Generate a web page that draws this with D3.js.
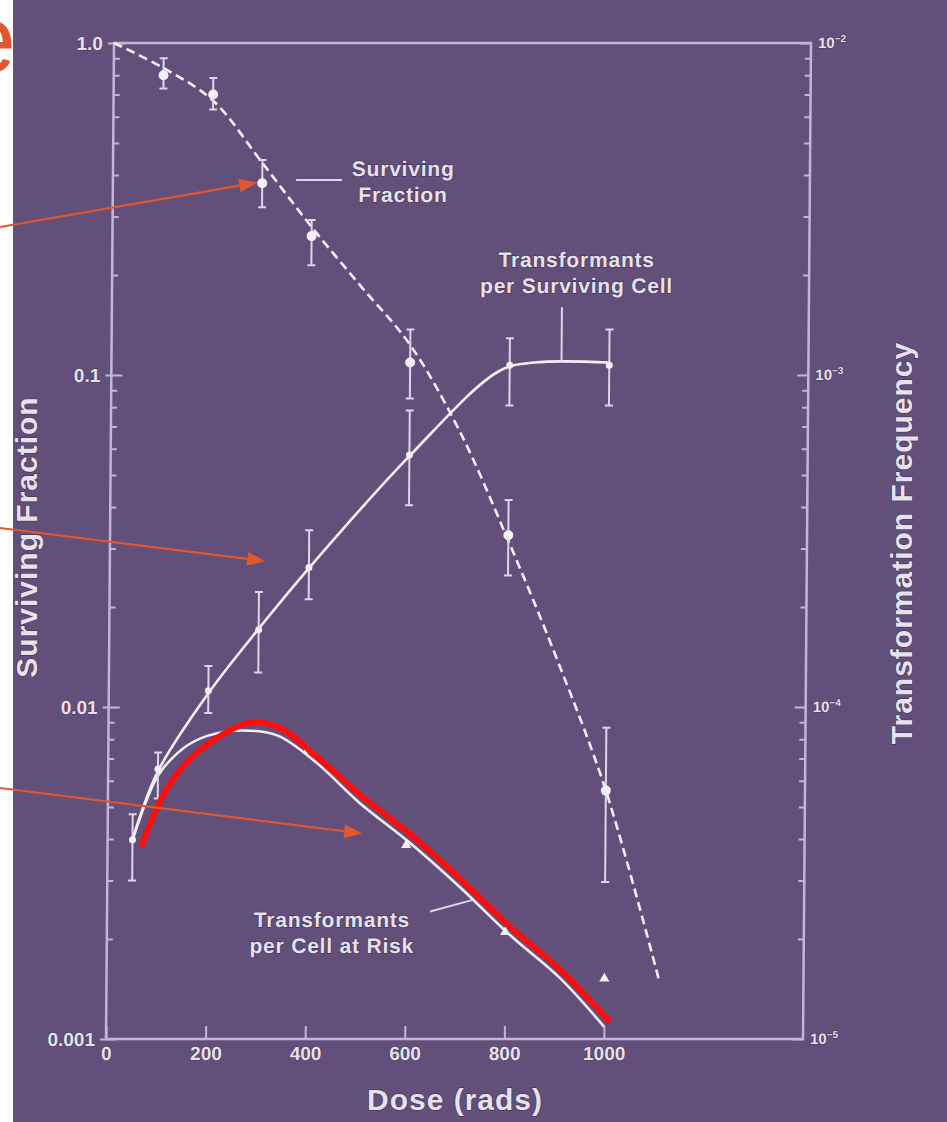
<!DOCTYPE html>
<html>
<head>
<meta charset="utf-8">
<script src="https://cdn.jsdelivr.net/npm/d3@7"></script>
<style>
  html, body { margin: 0; padding: 0; background: #fff; }
  svg { display: block; }
  text { font-family: "Liberation Sans", Arial, sans-serif; font-weight: bold; }
</style>
</head>
<body>
<svg id="chart" width="947" height="1122"></svg>
<script>
// ---- axis ticks ----
const doseTicks = [0, 200, 400, 600, 800, 1000];
const sfTicks = [1, 0.1, 0.01, 0.001];
const sfTickLabels = ["1.0", "0.1", "0.01", "0.001"];
const tfTicks = [1e-2, 1e-3, 1e-4, 1e-5];
const tfTickExponents = ["\u22122", "\u22123", "\u22124", "\u22125"];

// ---- surviving fraction (left axis) ----
const sfDoses = [100, 200, 300, 400, 600, 800, 1000];
const sfMean  = [0.80, 0.70, 0.378, 0.262, 0.109, 0.0329, 0.0056];
const sfLow   = [0.73, 0.63, 0.32, 0.214, 0.085, 0.0249, 0.00297];
const sfHigh  = [0.90, 0.785, 0.444, 0.293, 0.137, 0.042, 0.00866];
const sfFit = [[0, 1], [100, 0.84], [200, 0.67], [300, 0.435], [400, 0.279], [500, 0.185],
               [600, 0.123], [700, 0.068], [800, 0.0317], [900, 0.0139], [1000, 0.0056], [1110, 0.0015]];

// ---- transformants per surviving cell (right axis) ----
const tpscDoses = [50, 100, 200, 300, 400, 600, 800, 1000];
const tpscMean  = [3.98e-5, 6.5e-5, 1.12e-4, 1.71e-4, 2.63e-4, 5.74e-4, 1.07e-3, 1.07e-3];
const tpscLow   = [3.0e-5, 5.3e-5, 9.6e-5, 1.27e-4, 2.11e-4, 4.05e-4, 8.1e-4, 8.1e-4];
const tpscHigh  = [4.75e-5, 7.3e-5, 1.33e-4, 2.22e-4, 3.41e-4, 7.82e-4, 1.29e-3, 1.37e-3];
const tpscFit = [[50, 3.98e-5], [100, 6.4e-5], [200, 1.1e-4], [300, 1.72e-4], [400, 2.62e-4],
                 [600, 5.7e-4], [780, 1.03e-3], [850, 1.09e-3], [1000, 1.09e-3]];

// ---- transformants per cell at risk (right axis) ----
const tpcrDoses = [400, 600, 800, 1000];
const tpcrMean  = [7.4e-5, 3.84e-5, 2.1e-5, 1.52e-5];
const tpcrFit = [[50, 3.98e-5], [100, 6.2e-5], [150, 7.5e-5], [200, 8.2e-5], [270, 8.5e-5], [340, 8.2e-5],
                 [418, 6.8e-5], [505, 5.15e-5], [607, 3.9e-5], [708, 2.87e-5], [809, 2.06e-5],
                 [910, 1.53e-5], [1000, 1.09e-5]];

// ---- hand-drawn highlight over the per-cell-at-risk curve (right axis) ----
const highlight = [[69, 3.84e-5], [118, 5.67e-5], [184, 7.42e-5], [284, 8.96e-5], [344, 8.64e-5],
                   [418, 7.1e-5], [505, 5.45e-5], [607, 4.14e-5], [708, 3.04e-5], [809, 2.18e-5],
                   [910, 1.62e-5], [1008, 1.14e-5]];

// ---- layout ----
const W = 947, H = 1122;
const originX = 114, originY = 43, plotW = 697, plotH = 996;
const skew = -0.46;                          // the framed figure leans slightly
const tanSkew = Math.tan(skew * Math.PI / 180);
const ink = "#f3eff8", frameColor = "#c2b6d8", labelColor = "#e6e1ec";
const accent = "#e0562e";

const x  = d3.scaleLinear().domain([0, 1400]).range([0, plotW]);
const yL = d3.scaleLog().domain([0.001, 1]).range([plotH, 0]);
const yR = d3.scaleLog().domain([1e-5, 1e-2]).range([plotH, 0]);

function pagePos(d, v, ys) {
  const py = ys(v);
  return [originX + x(d) + tanSkew * py, originY + py];
}

const svg = d3.select("#chart");
svg.append("rect").attr("width", W).attr("height", H).attr("fill", "#fff");
// slide title letter peeking from behind the figure
svg.append("text").attr("x", 16).attr("y", 72).attr("text-anchor", "end")
  .attr("font-size", 96).style("font-weight", "normal").attr("fill", accent).text("e");
svg.append("rect").attr("x", 13).attr("y", 0).attr("width", W - 13).attr("height", H).attr("fill", "#63507a");

const g = svg.append("g").attr("transform", `translate(${originX},${originY}) skewX(${skew})`);

// frame
g.append("rect").attr("x", 0).attr("y", 0).attr("width", plotW).attr("height", plotH)
  .attr("fill", "none").attr("stroke", frameColor).attr("stroke-width", 2.5);

function styleAxis(sel, size) {
  sel.select(".domain").remove();
  sel.selectAll(".tick line").attr("stroke", frameColor).attr("stroke-width", 2);
  sel.selectAll(".tick text").attr("fill", labelColor).attr("font-size", size)
    .attr("font-family", null).style("font-weight", "bold")
    .attr("stroke", "#2c2240").attr("stroke-width", 1.2).attr("stroke-opacity", 0.5)
    .attr("paint-order", "stroke");
}

// minor log ticks (both vertical axes)
const minorVals = [];
[0.001, 0.01, 0.1].forEach(b => { for (let k = 2; k <= 9; k++) minorVals.push(b * k); });
g.append("g").call(d3.axisLeft(yL).tickValues(minorVals).tickSize(-6).tickFormat(""))
  .call(s => styleAxis(s, 0));
const minorR = minorVals.map(v => v * 1e-2);
g.append("g").attr("transform", `translate(${plotW},0)`)
  .call(d3.axisRight(yR).tickValues(minorR).tickSize(-6).tickFormat(""))
  .call(s => styleAxis(s, 0));

// left axis: surviving fraction
g.append("g")
  .call(d3.axisLeft(yL).tickValues(sfTicks).tickSizeInner(-11).tickSizeOuter(0).tickPadding(11)
    .tickFormat((d, i) => sfTickLabels[i]))
  .call(s => styleAxis(s, 19));
g.append("g").call(d3.axisLeft(yL).tickValues(sfTicks).tickSize(6).tickFormat(""))
  .call(s => styleAxis(s, 0));

// right axis: transformation frequency
const rightAxis = g.append("g").attr("transform", `translate(${plotW},0)`)
  .call(d3.axisRight(yR).tickValues(tfTicks).tickSizeInner(-11).tickSizeOuter(0).tickPadding(7)
    .tickFormat(() => "10"))
  .call(s => styleAxis(s, 15));
rightAxis.selectAll(".tick text").each(function (d, i) {
  d3.select(this).append("tspan").attr("dy", -6).attr("font-size", 10).text(tfTickExponents[i]);
});

// bottom axis: dose
g.append("g").attr("transform", `translate(0,${plotH})`)
  .call(d3.axisBottom(x).tickValues(doseTicks).tickSizeInner(-13).tickSizeOuter(0).tickPadding(8)
    .tickFormat(d3.format("d")))
  .call(s => styleAxis(s, 19));

// ---- curves ----
const curveL = d3.line().x(d => x(d[0])).y(d => yL(d[1])).curve(d3.curveCatmullRom.alpha(0.5));
const curveR = d3.line().x(d => x(d[0])).y(d => yR(d[1])).curve(d3.curveCatmullRom.alpha(0.5));

g.append("path").attr("d", curveL(sfFit)).attr("fill", "none")
  .attr("stroke", ink).attr("stroke-width", 2.6).attr("stroke-dasharray", "9,5");
g.append("path").attr("d", curveR(tpscFit)).attr("fill", "none")
  .attr("stroke", ink).attr("stroke-width", 2.6);
g.append("path").attr("d", curveR(tpcrFit)).attr("fill", "none")
  .attr("stroke", ink).attr("stroke-width", 2.6);

// ---- error bars and points ----
function errorBars(doses, lo, hi, ys) {
  const eb = g.append("g").attr("stroke", "#ddd5ea").attr("stroke-width", 2);
  doses.forEach((d, i) => {
    const cx = x(d);
    eb.append("line").attr("x1", cx).attr("x2", cx).attr("y1", ys(lo[i])).attr("y2", ys(hi[i]));
    [lo[i], hi[i]].forEach(v => eb.append("line")
      .attr("x1", cx - 4).attr("x2", cx + 4).attr("y1", ys(v)).attr("y2", ys(v)));
  });
}
errorBars(sfDoses, sfLow, sfHigh, yL);
errorBars(tpscDoses, tpscLow, tpscHigh, yR);

g.append("g").selectAll("circle").data(sfDoses).join("circle")
  .attr("cx", d => x(d)).attr("cy", (d, i) => yL(sfMean[i])).attr("r", 5).attr("fill", ink);
g.append("g").selectAll("circle").data(tpscDoses).join("circle")
  .attr("cx", d => x(d)).attr("cy", (d, i) => yR(tpscMean[i])).attr("r", 3.5).attr("fill", ink);
g.append("g").selectAll("path").data(tpcrDoses).join("path")
  .attr("transform", (d, i) => `translate(${x(d)},${yR(tpcrMean[i])})`)
  .attr("d", d3.symbol().type(d3.symbolTriangle).size(45)).attr("fill", ink);

// ---- curve labels with leader lines ----
function label(lines, dose, v, ys) {
  const t = g.append("text").attr("x", x(dose)).attr("y", ys(v)).attr("text-anchor", "middle")
    .attr("font-size", 21).attr("letter-spacing", 0.8).attr("fill", labelColor)
    .attr("stroke", "#2c2240").attr("stroke-width", 1.5).attr("stroke-opacity", 0.5)
    .attr("paint-order", "stroke");
  lines.forEach((s, i) => t.append("tspan").attr("x", x(dose)).attr("dy", i ? 26 : 0).text(s));
}
function leader(d1, v1, d2, v2, ys) {
  g.append("line").attr("x1", x(d1)).attr("y1", ys(v1)).attr("x2", x(d2)).attr("y2", ys(v2))
    .attr("stroke", "#ddd5ea").attr("stroke-width", 2);
}
label(["Surviving", "Fraction"], 583, 0.397, yL);
leader(368, 0.387, 460, 0.387, yL);
label(["Transformants", "per Surviving Cell"], 933, 2.11e-3, yR);
leader(904, 1.6e-3, 904, 1.1e-3, yR);
label(["Transformants", "per Cell at Risk"], 452, 2.18e-5, yR);
leader(649, 2.42e-5, 733, 2.62e-5, yR);

// ---- red highlight trace ----
g.append("path").attr("d", curveR(highlight)).attr("fill", "none")
  .attr("stroke", "#ff0d0d").attr("stroke-width", 6).attr("stroke-linecap", "round");

// ---- axis titles ----
function title(txt, tx, ty, rot) {
  svg.append("text").attr("transform", `translate(${tx},${ty}) rotate(${rot})`)
    .attr("text-anchor", "middle").attr("font-size", 30).attr("letter-spacing", 1)
    .attr("fill", labelColor).attr("stroke", "#2c2240").attr("stroke-width", 1.5)
    .attr("stroke-opacity", 0.5).attr("paint-order", "stroke").text(txt);
}
title("Surviving Fraction", 37, 537, -90);
title("Transformation Frequency", 912, 543, -90);
title("Dose (rads)", 455, 1110, 0);

// ---- pointer arrows from the slide margin ----
function arrow(tailY, dose, v, ys) {
  const [tx, ty] = pagePos(dose, v, ys);
  const ang = Math.atan2(ty - tailY, tx);
  const len = 18, half = 7;
  const bx = tx - len * Math.cos(ang), by = ty - len * Math.sin(ang);
  svg.append("line").attr("x1", 0).attr("y1", tailY).attr("x2", bx).attr("y2", by)
    .attr("stroke", accent).attr("stroke-width", 2.2);
  const px = -Math.sin(ang) * half, py = Math.cos(ang) * half;
  svg.append("polygon")
    .attr("points", `${tx},${ty} ${bx + px},${by + py} ${bx - px},${by - py}`)
    .attr("fill", accent);
}
arrow(227, 290, 0.38, yL);
arrow(528, 312, 2.75e-4, yR);
arrow(788, 511, 4.16e-5, yR);
</script>
</body>
</html>
